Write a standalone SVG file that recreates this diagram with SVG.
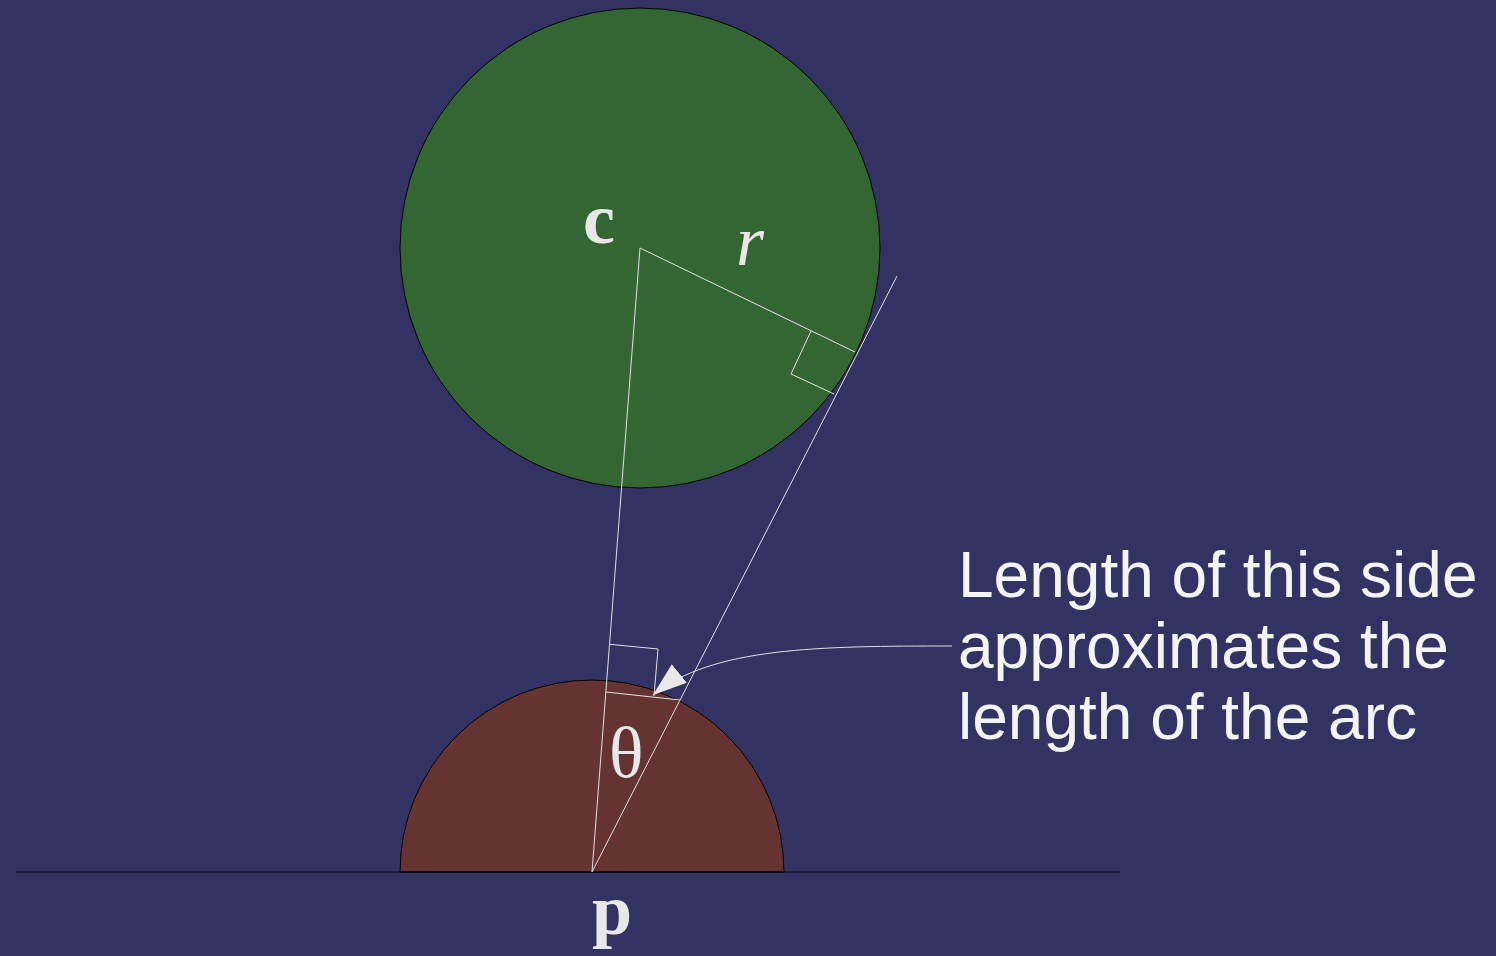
<svg xmlns="http://www.w3.org/2000/svg" width="1496" height="956" viewBox="0 0 1496 956">
<style>
.thin{fill:none;stroke:#e0e0e0;stroke-width:1}
.lbl{fill:#e8e8e8;font-family:"Liberation Serif","DejaVu Serif",serif;font-size:72px}
.note{fill:#f4f4f4;font-family:"Liberation Sans",Arial,sans-serif;font-size:64px}
</style>
<defs>
<marker id="ah" viewBox="0 0 34 24" refX="34" refY="12" markerWidth="34" markerHeight="24" markerUnits="userSpaceOnUse" orient="auto">
<path d="M0,0 L34,12 L0,24 Z" fill="#e8e8e8"/>
</marker>
</defs>
<rect width="1496" height="956" fill="#333363"/>
<g id="circle-c"><circle cx="640" cy="248" r="240" fill="#336633" stroke="#000" stroke-width="1"/></g>
<g id="semicircle-p"><path d="M400,872 A192,192 0 0 1 784,872 Z" fill="#663333" stroke="#000" stroke-width="1"/></g>
<g id="ground"><line x1="16" y1="872" x2="1120" y2="872" stroke="#000" stroke-width="1"/></g>
<g id="connectors">
<line class="thin" x1="592" y1="872" x2="640" y2="248"/>
<line class="thin" x1="640" y1="248" x2="855" y2="352"/>
<line class="thin" x1="592" y1="872" x2="897" y2="276"/>
<polyline class="thin" points="811,331 791,374 834,394"/>
<line class="thin" x1="606" y1="692" x2="680" y2="700"/>
<polyline class="thin" points="609.7,644.3 658,649 654,696"/>
<path class="thin" d="M952,646 C820,646 712,647 653,695" marker-end="url(#ah)"/>
</g>
<g id="labels">
<text class="lbl" x="583" y="243" font-weight="bold">c</text>
<text class="lbl" x="736" y="265" font-style="italic">r</text>
<text class="lbl" x="609" y="777">θ</text>
<text class="lbl" x="592" y="934" font-weight="bold">p</text>
</g>
<g id="note">
<text class="note" x="958" y="597">Length of this side</text>
<text class="note" x="958" y="668">approximates the</text>
<text class="note" x="958" y="739">length of the arc</text>
</g>
</svg>
